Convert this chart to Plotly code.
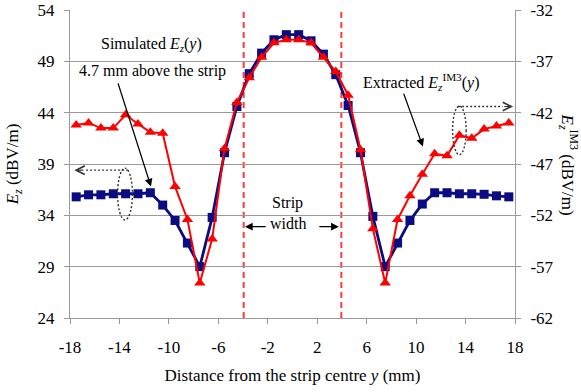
import plotly.graph_objects as go

# ---------------- data ----------------
y_positions = [-17.5, -16.5, -15.5, -14.5, -13.5, -12.5, -11.5, -10.5, -9.5, -8.5, -7.5, -6.5,
               -5.5, -4.5, -3.5, -2.5, -1.5, -0.5, 0.5, 1.5, 2.5, 3.5, 4.5, 5.5,
               6.5, 7.5, 8.5, 9.5, 10.5, 11.5, 12.5, 13.5, 14.5, 15.5, 16.5, 17.5]

simulated_ez = [35.8, 36.0, 36.0, 36.1, 36.1, 36.1, 36.2, 35.0, 33.5, 31.3, 29.0, 33.8,
                40.1, 44.6, 47.8, 49.8, 51.1, 51.6, 51.6, 51.0, 49.7, 47.7, 44.7, 40.1,
                33.9, 29.0, 31.3, 33.5, 35.1, 36.2, 36.2, 36.1, 36.1, 36.05, 35.9, 35.8]

extracted_im3 = [-43.2, -43.0, -43.5, -43.5, -42.2, -43.1, -43.9, -44.0, -49.2, -52.4, -58.6, -54.3,
                 -45.5, -41.0, -38.6, -36.6, -35.2, -34.9, -34.9, -35.2, -36.6, -38.0, -40.3, -45.6,
                 -53.3, -58.6, -52.4, -50.1, -48.0, -46.0, -46.2, -44.2, -44.5, -43.6, -43.3, -43.0]

x_ticks = [-18, -14, -10, -6, -2, 2, 6, 10, 14, 18]
left_ticks = [24, 29, 34, 39, 44, 49, 54]
right_ticks = [-62, -57, -52, -47, -42, -37, -32]
strip_edges = [-3.95, 3.95]

FONT = "Liberation Serif"
NAVY = "#0b0b82"
RED = "#ff0000"
GRID = "#9a9a9a"

fig = go.Figure()
fig.add_trace(go.Scatter(
    x=y_positions, y=simulated_ez, mode="lines+markers",
    line=dict(color=NAVY, width=2.8),
    marker=dict(symbol="square", size=9, color=NAVY),
    showlegend=False, yaxis="y"))
fig.add_trace(go.Scatter(
    x=y_positions, y=extracted_im3, mode="lines+markers",
    line=dict(color=RED, width=2),
    marker=dict(symbol="triangle-up", size=10, color=RED),
    showlegend=False, yaxis="y2"))

# strip edge dashed lines
for xe in strip_edges:
    fig.add_shape(type="line", xref="x", yref="paper", x0=xe, x1=xe, y0=0, y1=1,
                  line=dict(color="#ff3b3b", width=2, dash="6px,4px"), layer="below")

tick_font = dict(family=FONT, size=17, color="black")

fig.update_layout(
    width=581, height=392,
    margin=dict(l=70, r=66, t=10, b=74, autoexpand=False),
    paper_bgcolor="white", plot_bgcolor="white",
    font=dict(family=FONT, color="black"),
    xaxis=dict(range=[-18, 18], tickvals=x_ticks, ticktext=[str(v) for v in x_ticks],
               showgrid=False, zeroline=False, showline=True, linecolor=GRID, linewidth=1,
               ticks="outside", ticklen=5, tickcolor=GRID, tickfont=tick_font,
               ticklabelstandoff=9,
               title=dict(text="Distance from the strip centre <i>y</i> (mm)",
                          font=dict(family=FONT, size=17), standoff=12)),
    yaxis=dict(range=[24, 54], tickvals=left_ticks, ticktext=[str(v) for v in left_ticks],
               showgrid=True, gridcolor=GRID, gridwidth=1, zeroline=False,
               showline=True, linecolor=GRID, linewidth=1,
               ticks="outside", ticklen=5, tickcolor=GRID, tickfont=tick_font,
               ticklabelstandoff=6,
               title=dict(text="<i>E<sub>z</sub></i> (dBV/m)",
                          font=dict(family=FONT, size=17), standoff=14)),
    yaxis2=dict(range=[-62, -32], tickvals=right_ticks, ticktext=[str(v) for v in right_ticks],
                overlaying="y", side="right", showgrid=False, zeroline=False,
                showline=True, linecolor=GRID, linewidth=1,
                ticks="outside", ticklen=5, tickcolor=GRID, tickfont=tick_font,
                ticklabelstandoff=6),
)

# right axis title (reads top to bottom)
fig.add_annotation(xref="paper", yref="paper", x=1.0, y=0.5, xshift=68,
                   text="<i>E<sub>z</sub></i><sup>IM3</sup> (dBV/m)", textangle=90,
                   showarrow=False, font=dict(family=FONT, size=17))

ann_font = dict(family=FONT, size=16, color="black")

# Simulated label and arrow
fig.add_annotation(x=-11.4, y=50.6, text="Simulated <i>E<sub>z</sub></i>(<i>y</i>)",
                   showarrow=False, font=ann_font)
fig.add_annotation(x=-11.35, y=48.1, text="4.7 mm above the strip",
                   showarrow=False, font=ann_font)
fig.add_annotation(x=-11.45, y=36.8, ax=-14.15, ay=47.0, axref="x", ayref="y",
                   showarrow=True, arrowhead=2, arrowsize=1.2, arrowwidth=1.3,
                   arrowcolor="black", text="")

# Extracted label and arrow
fig.add_annotation(x=10.4, y=47.0, text="Extracted <i>E<sub>z</sub></i><sup>IM3</sup>(<i>y</i>)",
                   showarrow=False, font=ann_font)
fig.add_annotation(x=10.55, y=40.7, ax=8.95, ay=46.0, axref="x", ayref="y",
                   showarrow=True, arrowhead=2, arrowsize=1.2, arrowwidth=1.3,
                   arrowcolor="black", text="")

# Strip width label and arrows
fig.add_annotation(x=-0.4, y=35.2, text="Strip", showarrow=False, font=ann_font)
fig.add_annotation(x=-0.4, y=33.25, text="width", showarrow=False, font=ann_font)
fig.add_annotation(x=-3.85, y=32.9, ax=-2.05, ay=32.9, axref="x", ayref="y",
                   showarrow=True, arrowhead=2, arrowsize=1.2, arrowwidth=1.3,
                   arrowcolor="black", text="")
fig.add_annotation(x=3.75, y=32.9, ax=2.05, ay=32.9, axref="x", ayref="y",
                   showarrow=True, arrowhead=2, arrowsize=1.2, arrowwidth=1.3,
                   arrowcolor="black", text="")

# dotted ellipses and dotted arrows indicating axes
DOT = dict(color="#333333", width=1.4, dash="2px,2px")
fig.add_shape(type="circle", xref="x", yref="y", x0=-14.15, x1=-12.95, y0=33.55, y1=38.6,
              line=DOT)
fig.add_shape(type="line", xref="x", yref="y", x0=-13.3, x1=-16.8, y0=38.4, y1=38.4, line=DOT)
fig.add_annotation(x=-17.65, y=38.4, ax=-16.8, ay=38.4, axref="x", ayref="y",
                   showarrow=True, arrowhead=5, arrowsize=1.4, arrowwidth=1.2,
                   arrowcolor="#333333", text="")

fig.add_shape(type="circle", xref="x", yref="y", x0=12.95, x1=14.05, y0=39.9, y1=44.65,
              line=DOT)
fig.add_shape(type="line", xref="x", yref="y", x0=13.4, x1=17.0, y0=44.6, y1=44.6, line=DOT)
fig.add_annotation(x=17.85, y=44.6, ax=17.0, ay=44.6, axref="x", ayref="y",
                   showarrow=True, arrowhead=5, arrowsize=1.4, arrowwidth=1.2,
                   arrowcolor="#333333", text="")

fig.write_html("out.html")
